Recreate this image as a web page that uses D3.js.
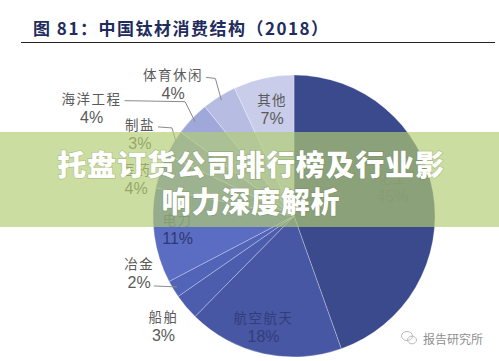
<!DOCTYPE html>
<html><head><meta charset="utf-8">
<script src="https://cdn.jsdelivr.net/npm/d3@7"></script>
<style>body{margin:0;background:#fff}svg{display:block}</style>
</head><body>
<svg id="c" width="499" height="361"></svg>
<script>
// ---- data ----
const categories = ["化工","航空航天","船舶","冶金","电力","医药","制盐","海洋工程","体育休闲","其他"];
const values = [45,18,3,2,11,4,3,4,4,7];
const titleText = "图 81：中国钛材消费结构（2018）";
const overlayLines = ["托盘订货公司排行榜及行业影","响力深度解析"];
const watermarkText = "报告研究所";

// ---- styles / layout ----
const colors = ["#3b4a8d","#4757a4","#4c5dae","#5264b7","#5b6dc2","#7381ca","#8893d1","#9fa8d9","#b6bce2","#c9cde9"];
const labelLayout = [
  {da:-7,  k:0.73, fill:"#343c72"},
  {da:3,   k:0.81, fill:"#333d7a"},
  {da:0,   k:1.21, fill:"#5a5a5a"},
  {da:11,  k:1.17, fill:"#5a5a5a", leader:"pct",  el:0},
  {da:2,   k:0.83, fill:"#2e3875"},
  {da:-5.5,k:1.15, fill:"#5a5a5a"},
  {da:-3,  k:1.24, fill:"#5a5a5a", leader:"name", el:5},
  {da:-15.4,k:1.63,fill:"#5a5a5a", leader:"name", el:10},
  {da:-10.4,k:1.27,fill:"#5a5a5a", leader:"name", el:6},
  {da:1,   k:0.78, fill:"#5a5a5a"}
];

const svg = d3.select("#c");
const W = 499, H = 361;
const cx = 294, cy = 216, R = 141;

// title
svg.append("text").attr("x",33).attr("y",27).attr("dominant-baseline","central")
  .attr("font-family","'Noto Sans CJK SC','Liberation Sans',sans-serif")
  .attr("font-weight",700).attr("font-size",17).attr("fill","#1f2c5e")
  .style("letter-spacing","1.5px").attr("xml:space","preserve").text(titleText);
svg.append("line").attr("x1",21).attr("x2",495).attr("y1",42.5).attr("y2",42.5)
  .attr("stroke","#222").attr("stroke-width",1.2);

// pie
const pie = d3.pie().sort(null).value(d=>d.v).startAngle(0).endAngle(2*Math.PI);
const data = categories.map((c,i)=>({c, v:values[i], i}));
const arcs = pie(data);
const arc = d3.arc().innerRadius(0).outerRadius(R);
const g = svg.append("g").attr("transform",`translate(${cx},${cy})`);
g.selectAll("path").data(arcs).join("path")
  .attr("d",arc).attr("fill",d=>colors[d.index])
  .attr("stroke","rgba(255,255,255,0.4)").attr("stroke-width",0.7);

// labels
const polar = (ang, r) => [Math.sin(ang)*r, -Math.cos(ang)*r];
arcs.forEach((a,i)=>{
  const L = labelLayout[i];
  const mid = (a.startAngle + a.endAngle)/2;
  const ang = mid + L.da*Math.PI/180;
  const [lx, ly] = polar(ang, L.k*R);
  const nameT = g.append("text").attr("x",lx).attr("y",ly-9.5).attr("text-anchor","middle")
    .attr("dominant-baseline","central")
    .attr("font-family","'Noto Sans CJK SC',sans-serif").attr("font-size",13.5)
    .attr("fill",L.fill).style("letter-spacing","1.5px").text(categories[i]);
  const pctT = g.append("text").attr("x",lx).attr("y",ly+10).attr("text-anchor","middle")
    .attr("dominant-baseline","central")
    .attr("font-family","'Liberation Sans',Arial,sans-serif").attr("font-size",16)
    .attr("fill",L.fill).text(values[i]+"%");
  if (L.leader) {
    const t = L.leader==="name" ? nameT : pctT;
    const bb = t.node().getBBox();
    const start = [bb.x+bb.width+3, (L.leader==="name"? ly-9.5 : ly+10)+3];
    const end = polar(mid, R*0.97);
    const elbow = [end[0]-L.el*(end[0]>start[0]?1:-1), start[1]+1];
    g.append("path").attr("d", d3.line()([start, elbow, end]))
      .attr("fill","none").attr("stroke","#8a8a8a").attr("stroke-width",1);
  }
});

// overlay band
svg.append("rect").attr("x",0).attr("y",132).attr("width",W).attr("height",95)
  .attr("fill","rgb(177,204,113)").attr("opacity",0.67);
overlayLines.forEach((t,i)=>{
  svg.append("text").attr("x",251).attr("y",163+i*37).attr("text-anchor","middle")
    .attr("dominant-baseline","central")
    .attr("font-family","'Noto Sans CJK SC',sans-serif").attr("font-weight",900)
    .attr("font-size",29).attr("fill","#fff").style("letter-spacing","0.8px")
    .style("paint-order","stroke").attr("stroke","rgba(90,110,60,0.25)").attr("stroke-width",1.5)
    .text(t);
});

// watermark
const wm = svg.append("g").attr("transform","translate(409,338)").attr("fill","none")
  .attr("stroke","#bbb").attr("stroke-width",1);
wm.append("ellipse").attr("cx",-2).attr("cy",-2).attr("rx",5.5).attr("ry",4.5);
wm.append("ellipse").attr("cx",3).attr("cy",2).attr("rx",4.5).attr("ry",3.8);
svg.append("text").attr("x",423).attr("y",338).attr("dominant-baseline","central")
  .attr("font-family","'Noto Sans CJK SC',sans-serif").attr("font-size",12)
  .attr("fill","#8f8f8f").text(watermarkText);
</script>
</body></html>
